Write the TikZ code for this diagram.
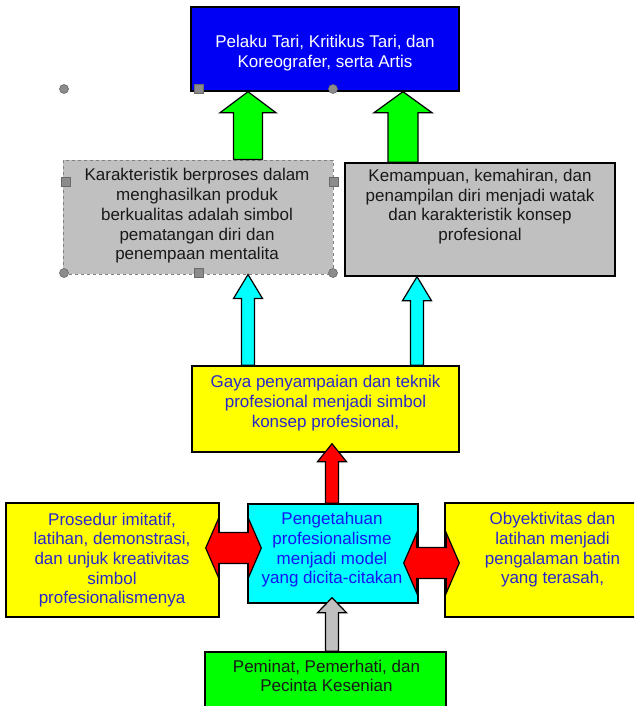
\documentclass[tikz,border=0pt]{standalone}
\usepackage{fontspec}
\setmainfont{Liberation Sans}
\usetikzlibrary{calc}

\definecolor{boxblue}{RGB}{0,0,245}
\definecolor{boxgreen}{RGB}{0,255,0}
\definecolor{boxgray}{RGB}{192,192,192}
\definecolor{boxyellow}{RGB}{255,255,0}
\definecolor{boxcyan}{RGB}{0,255,255}
\definecolor{boxred}{RGB}{255,0,0}
\definecolor{txtblue}{RGB}{40,40,205}
\definecolor{txtcyanblue}{RGB}{20,20,245}
\definecolor{handlefill}{RGB}{140,140,140}
\definecolor{handleline}{RGB}{105,105,105}

% block arrow pointing up: fill, base, tip, shaft half width, head half width, head length
\newcommand{\uparrowblk}[6]{%
  \draw[blk,fill=#1] let \p1=#2, \p2=#3 in
    (\x1-#4,\y1) -- (\x1-#4,\y2-#6) -- (\x1-#5,\y2-#6) -- (\x2,\y2)
    -- (\x1+#5,\y2-#6) -- (\x1+#4,\y2-#6) -- (\x1+#4,\y1) -- cycle;}
% block arrow with two heads: fill, left tip, right tip, shaft half width, head half width, head length
\newcommand{\dblarrowblk}[6]{%
  \draw[blk,fill=#1] let \p1=#2, \p2=#3 in
    (\x1,\y1) -- (\x1+#6,\y1+#5) -- (\x1+#6,\y1+#4) -- (\x2-#6,\y1+#4)
    -- (\x2-#6,\y1+#5) -- (\x2,\y1) -- (\x2-#6,\y1-#5) -- (\x2-#6,\y1-#4)
    -- (\x1+#6,\y1-#4) -- (\x1+#6,\y1-#5) -- cycle;}

\begin{document}
\begin{tikzpicture}[x=1pt,y=-1pt,
	box/.style={draw=black,line width=1.4pt,inner sep=0pt},
	txt/.style={align=center,inner sep=0pt,font=\fontsize{17}{19.7}\selectfont},
	blk/.style={draw=black,line width=1.2pt,line join=miter},
	handle/.style={fill=handlefill,draw=handleline,line width=0.6pt}]
	\clip (0,0) rectangle (634,706);
	
	\node[box,fill=boxblue,minimum width=268pt,minimum height=84pt] (pelaku) at (325,49) {};
	\node[box,fill=boxgray,draw=gray,dashed,line width=1pt,minimum width=270pt,minimum height=114pt] (karakter) at (198,217) {};
	\node[box,fill=boxgray,minimum width=270pt,minimum height=113pt] (kemampuan) at (480,219.5) {};
	\node[box,fill=boxyellow,minimum width=267pt,minimum height=86pt] (gaya) at (325.5,409) {};
	\node[box,fill=boxyellow,minimum width=213pt,minimum height=114pt] (prosedur) at (112.5,560) {};
	\node[box,fill=boxcyan,minimum width=170pt,minimum height=99pt] (pengetahuan) at (333,553.5) {};
	\node[box,fill=boxyellow,minimum width=200pt,minimum height=114pt] (obyektif) at (545,560) {};
	\node[box,fill=boxgreen,minimum width=241pt,minimum height=78pt] (peminat) at (325.5,691) {};
	
	\node[txt,text=white] (pelaku-t) at (325,53) {Pelaku Tari, Kritikus Tari, dan\\Koreografer, serta Artis};
	\node[txt,text=black!90] (karakter-t) at (197,216) {Karakteristik berproses dalam\\menghasilkan produk\\berkualitas adalah simbol\\pematangan diri dan\\penempaan mentalita};
	\node[txt,text=black!90] (kemampuan-t) at (480,206.5) {Kemampuan, kemahiran, dan\\penampilan diri menjadi watak\\dan karakteristik konsep\\profesional};
	\node[txt,text=txtblue] (gaya-t) at (325.5,403) {Gaya penyampaian dan teknik\\profesional menjadi simbol\\konsep profesional,};
	\node[txt,text=txtblue] (prosedur-t) at (112,560) {Prosedur imitatif,\\latihan, demonstrasi,\\dan unjuk kreativitas\\simbol\\profesionalismenya};
	\node[txt,text=txtcyanblue] (pengetahuan-t) at (332,550) {Pengetahuan\\profesionalisme\\menjadi model\\yang dicita-citakan};
	\node[txt,text=txtblue] (obyektif-t) at (552.5,550) {Obyektivitas dan\\latihan menjadi\\pengalaman batin\\yang terasah,};
	\node[txt,text=black!90] (peminat-t) at (326.5,676) {Peminat, Pemerhati, dan\\Pecinta Kesenian};
	
	\coordinate (colL) at (248,0);
	\coordinate (colR) at (403,0);
	\coordinate (colC) at (417,0);
	\coordinate (colM) at (332,0);
	\coordinate (rowL) at (0,548);
	\coordinate (rowR) at (0,563);
	
	\uparrowblk{boxgreen}{(colL |- karakter.north)}{(colL |- pelaku.south)}{14.5pt}{28pt}{21pt}
	\uparrowblk{boxgreen}{(colR |- kemampuan.north)}{(colR |- pelaku.south)}{15pt}{29pt}{21pt}
	\uparrowblk{boxcyan}{(colL |- gaya.north)}{(colL |- karakter.south)}{6.5pt}{14.5pt}{24pt}
	\uparrowblk{boxcyan}{(colC |- gaya.north)}{(colC |- kemampuan.south)}{6.5pt}{14.5pt}{24pt}
	\uparrowblk{boxred}{(colM |- pengetahuan.north)}{($(colM |- gaya.south)+(0,-9)$)}{6.5pt}{14.5pt}{18pt}
	\uparrowblk{boxgray}{(colM |- peminat.north)}{($(colM |- pengetahuan.south)+(0,-6)$)}{6.5pt}{14.5pt}{15pt}
	\dblarrowblk{boxred}{($(prosedur.east |- rowL)+(-14,0)$)}{($(pengetahuan.west |- rowL)+(14,0)$)}{15.5pt}{30pt}{13pt}
	\dblarrowblk{boxred}{($(pengetahuan.east |- rowR)+(-15,0)$)}{($(obyektif.west |- rowR)+(15,0)$)}{15.5pt}{30pt}{13pt}
	
	\foreach \x/\y in {64/89,333/89,64/273,333/273}
		\filldraw[handle] (\x,\y) circle[radius=4.5pt];
	\foreach \x/\y in {199/89,66/182,334/182,199/273}
		\filldraw[handle] (\x,\y) ++(-4.5,-4.5) rectangle ++(9,9);
\end{tikzpicture}
\end{document}
